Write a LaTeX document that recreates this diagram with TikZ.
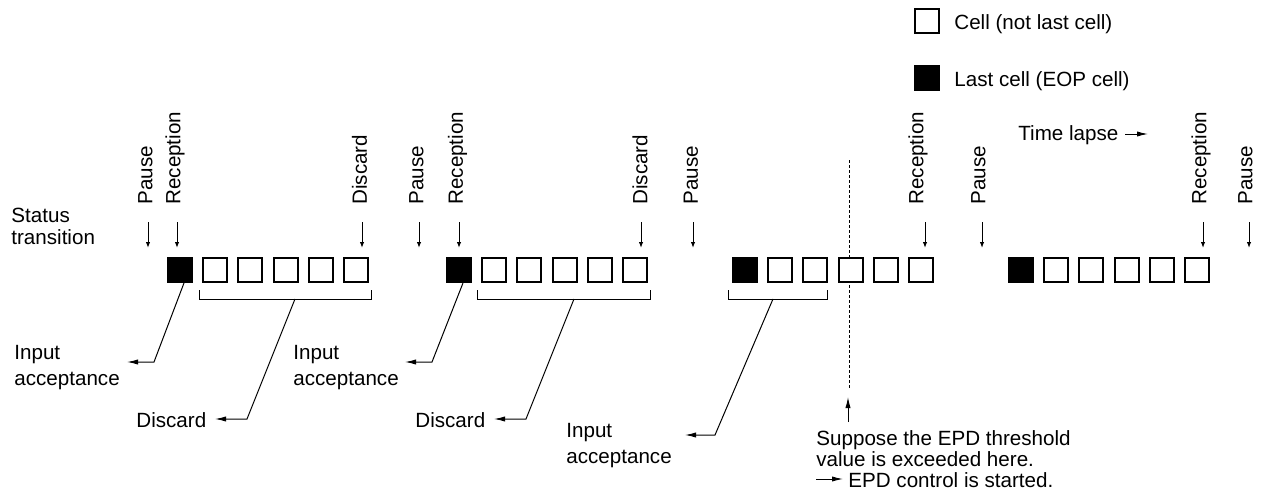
\documentclass[tikz,border=0pt]{standalone}
\usepackage{fontspec}
\setmainfont{Liberation Sans}
\usetikzlibrary{arrows.meta}
\begin{document}
\begin{tikzpicture}[x=0.5pt,y=-0.5pt,
  txt/.style={inner sep=0pt, font=\fontsize{10.3}{12}\selectfont},
  cell/.style={draw, line width=1pt, minimum size=12pt, inner sep=0pt, fill=white},
  eop/.style={cell, fill=black},
  lbl/.style={txt, rotate=90, anchor=west},
  tick/.style={line width=0.5pt, -{Latex[length=3pt,width=2.2pt]}},
  lead/.style={line width=0.5pt, -{Latex[length=5.5pt,width=2.6pt]}},
  brk/.style={line width=0.5pt},
  dots/.style={line width=0.5pt, dash pattern=on 1.5pt off 1pt}]
\useasboundingbox (0,0) rectangle (1265,498);

% legend
\node[cell] (lw) at (927,20.5) {};
\node[txt, anchor=base west] (lwt) at (954,30) {Cell (not last cell)};
\node[eop] (lb) at (927,77.5) {};
\node[txt, anchor=base west] (lbt) at (954,86) {Last cell (EOP cell)};

% time lapse
\node[txt, anchor=base west] (tl) at (1018,140) {Time lapse};
\coordinate (tla) at (1125,134);
\coordinate (tlb) at (1148,134);
\draw[lead] (tla) -- (tlb);

% status
\node[txt, anchor=base west, align=left, font=\fontsize{10.3}{11}\selectfont] (st) at (11,244) {Status\\transition};

% dotted threshold line (behind cells)
\coordinate (dtop) at (849,160);
\coordinate (dbot) at (849,390);
\draw[dots] (dtop) -- (dbot);

% cells
\foreach \g/\s in {1/180,2/459,3/745,4/1021} {
  \node[eop] (c\g-0) at (\s,270) {};
  \foreach \i in {1,...,5}
    \node[cell] (c\g-\i) at ({\s+35.2*\i},270) {};
}

% status labels and arrows
\foreach \n/\t/\lx/\ax in {p1/Pause/145.5/148, r1/Reception/175/177, d1/Discard/359.5/362,
  p2/Pause/416.5/419, r2/Reception/457.5/459, d2/Discard/640/641, p3/Pause/691/693,
  r3/Reception/918/925, p4/Pause/978.5/982, r4/Reception/1201/1203, p5/Pause/1245.5/1249} {
  \node[lbl] (\n) at (\lx,205) {\t};
  \coordinate (\n-a) at (\ax,222);
  \coordinate (\n-b) at (\ax,248);
  \draw[tick] (\n-a) -- (\n-b);
}

% brackets
\coordinate (b1l) at (199,290); \coordinate (b1r) at (371,290);
\coordinate (b2l) at (477,290); \coordinate (b2r) at (650,290);
\coordinate (b3l) at (728,290); \coordinate (b3r) at (827,290);
\draw[brk] (b1l) -- ++(0,9) -| (b1r);
\draw[brk] (b2l) -- ++(0,9) -| (b2r);
\draw[brk] (b3l) -- ++(0,9) -| (b3r);

% lower texts
\node[txt, anchor=base west, align=left, font=\fontsize{10.3}{13}\selectfont] (ia1) at (14,385) {Input\\acceptance};
\node[txt, anchor=base west] (dc1) at (136,427) {Discard};
\node[txt, anchor=base west, align=left, font=\fontsize{10.3}{13}\selectfont] (ia2) at (293,385) {Input\\acceptance};
\node[txt, anchor=base west] (dc2) at (415,427) {Discard};
\node[txt, anchor=base west, align=left, font=\fontsize{10.3}{13}\selectfont] (ia3) at (566,463) {Input\\acceptance};

% leader lines
\coordinate (t1) at (127,362);
\draw[lead] ([xshift=2pt]c1-0.south) -- (154,362) -- (t1);
\coordinate (t2) at (215,419);
\draw[lead] (295,299) -- (247,419) -- (t2);
\coordinate (t3) at (405,362);
\draw[lead] ([xshift=2pt]c2-0.south) -- (432,362) -- (t3);
\coordinate (t4) at (494,419);
\draw[lead] (574,299) -- (526,419) -- (t4);
\coordinate (t5) at (685,435);
\draw[lead] (773,299) -- (715,435) -- (t5);

% EPD note
\node[txt, anchor=base west, align=left, font=\fontsize{10.3}{10.5}\selectfont] (sup) at (816,466) {Suppose the EPD threshold\\value is exceeded here.};
\node[txt, anchor=base west] (epd) at (848,487) {EPD control is started.};
\coordinate (ea) at (816,479);
\coordinate (eb) at (843,479);
\draw[lead] (ea) -- (eb);
\coordinate (ua) at (848,422);
\coordinate (ub) at (848,397);
\draw[lead] (ua) -- (ub);
\end{tikzpicture}
\end{document}
